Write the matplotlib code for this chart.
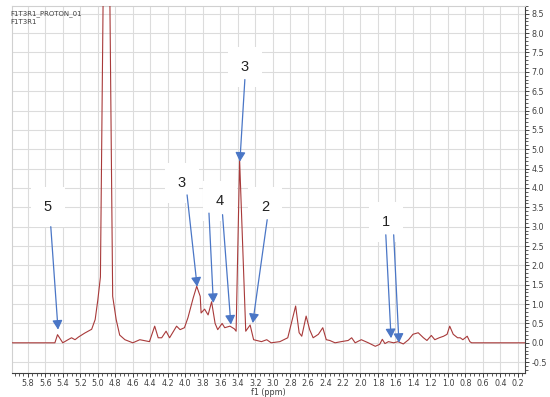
import matplotlib
matplotlib.use("Agg")
import matplotlib.pyplot as plt
from matplotlib.ticker import MultipleLocator
import numpy as np

# spectrum (ppm, intensity)
ppm = [5.98, 5.49, 5.46, 5.40, 5.34, 5.30, 5.26, 5.22, 5.15, 5.07, 5.03, 5.00, 4.97,
       4.90, 4.83, 4.79, 4.75, 4.69, 4.60, 4.52, 4.41, 4.35, 4.31, 4.27, 4.22, 4.18,
       4.10, 4.06, 4.01, 3.97, 3.91, 3.87, 3.83, 3.82, 3.78, 3.74, 3.70, 3.66, 3.63,
       3.58, 3.55, 3.49, 3.44, 3.42, 3.38, 3.31, 3.26, 3.22, 3.13, 3.07, 3.02, 2.92,
       2.83, 2.74, 2.70, 2.67, 2.62, 2.58, 2.54, 2.48, 2.43, 2.39, 2.35, 2.29, 2.22,
       2.14, 2.10, 2.06, 1.99, 1.91, 1.83, 1.78, 1.75, 1.72, 1.68, 1.62, 1.57, 1.51,
       1.45, 1.40, 1.34, 1.28, 1.24, 1.19, 1.15, 1.10, 1.05, 1.01, 0.98, 0.94, 0.89,
       0.86, 0.83, 0.78, 0.75, 0.73, 0.12]
intensity = [0.0, 0.0, 0.21, 0.0, 0.08, 0.13, 0.08, 0.15, 0.25, 0.35, 0.6, 1.1, 1.7,
             18.0, 1.2, 0.6, 0.2, 0.08, 0.0, 0.08, 0.03, 0.43, 0.13, 0.13, 0.3, 0.13,
             0.43, 0.34, 0.39, 0.65, 1.16, 1.46, 1.2, 0.77, 0.87, 0.72, 1.06, 0.5, 0.34,
             0.5, 0.39, 0.43, 0.36, 0.3, 4.72, 0.3, 0.46, 0.08, 0.03, 0.08, 0.0, 0.03,
             0.13, 0.95, 0.26, 0.17, 0.69, 0.34, 0.13, 0.22, 0.39, 0.08, 0.06, 0.0, 0.03,
             0.06, 0.13, 0.0, 0.08, 0.0, -0.09, -0.04, 0.09, -0.02, 0.03, 0.0, 0.03, -0.03,
             0.08, 0.22, 0.26, 0.13, 0.06, 0.19, 0.08, 0.13, 0.17, 0.22, 0.43, 0.22, 0.13,
             0.13, 0.08, 0.17, 0.03, 0.0, 0.0]

# annotations: label, label position, list of (arrow start, arrow tip)
labels = ["5", "3", "4", "3", "2", "1"]
label_pos = [(5.571, 3.51), (4.04, 4.13), (3.606, 3.67), (3.32, 7.13), (3.09, 3.51), (1.71, 3.13)]
arrows = [
    [((5.537, 3.0), (5.454, 0.34))],
    [((3.98, 3.82), (3.865, 1.45))],
    [((3.73, 3.35), (3.68, 1.03)), ((3.575, 3.31), (3.48, 0.47))],
    [((3.32, 6.8), (3.377, 4.68))],
    [((3.065, 3.18), (3.23, 0.51))],
    [((1.71, 2.79), (1.65, 0.12)), ((1.62, 2.79), (1.56, 0.0))],
]

fig = plt.figure(figsize=(5.5, 3.97), dpi=100)
ax = fig.add_axes([12/550, 1-373/397, (525-12)/550, (373-6)/397])

ax.plot(ppm, intensity, color="#a83a3a", lw=0.8, zorder=3)

ax.set_xlim(5.98, 0.12)
ax.set_ylim(-0.78, 8.7)
ax.xaxis.set_major_locator(MultipleLocator(0.2))
ax.xaxis.set_minor_locator(MultipleLocator(0.05))
ax.yaxis.set_major_locator(MultipleLocator(0.5))
ax.yaxis.set_minor_locator(MultipleLocator(0.1))
ax.yaxis.tick_right()
ax.grid(True, which="major", color="#dcdcdc", lw=0.8, zorder=0)
ax.tick_params(axis="both", which="major", labelsize=5.8, labelcolor="#404040",
               color="#404040", length=3, width=0.7, pad=1.5)
ax.tick_params(axis="both", which="minor", color="#404040", length=1.8, width=0.6)
ax.xaxis.set_major_formatter(matplotlib.ticker.FuncFormatter(lambda v, p: f"{v:.1f}"))
ax.yaxis.set_major_formatter(matplotlib.ticker.FuncFormatter(lambda v, p: f"{v:.1f}"))

for s in ["left", "top"]:
    ax.spines[s].set_color("#d0d0d0")
    ax.spines[s].set_linewidth(0.8)
for s in ["right", "bottom"]:
    ax.spines[s].set_color("#404040")
    ax.spines[s].set_linewidth(0.8)

ax.set_xlabel("f1 (ppm)", fontsize=5.8, color="#404040", labelpad=0)

for lab, pos, arrs in zip(labels, label_pos, arrows):
    ax.text(pos[0], pos[1], lab, ha="center", va="center", fontsize=10.5,
            family="Liberation Sans", color="#222222", zorder=5,
            bbox=dict(boxstyle="square,pad=0.9", fc="white", ec="none"))
    for start, tip in arrs:
        ax.annotate("", xy=tip, xytext=start, zorder=6,
                    arrowprops=dict(arrowstyle="-|>,head_length=0.55,head_width=0.3",
                                    color="#4a76c6", lw=0.9,
                                    mutation_scale=10, shrinkA=0, shrinkB=0))

fig.text(10/550, 1-14/397, "F1T3R1_PROTON_01", fontsize=5, color="#404040", va="center")
fig.text(10/550, 1-22/397, "F1T3R1", fontsize=5, color="#404040", va="center")

fig.savefig("out.png", dpi=100)
